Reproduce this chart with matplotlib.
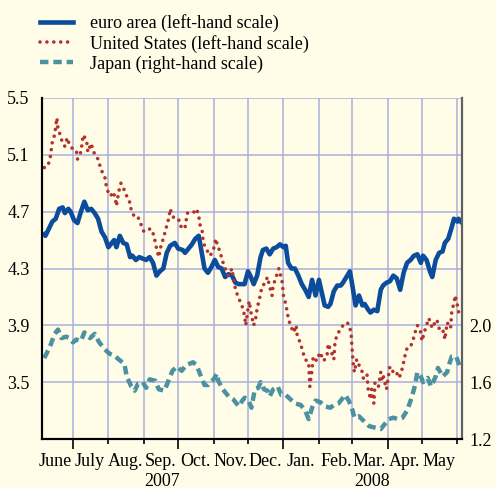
import numpy as np
import matplotlib
matplotlib.use("Agg")
import matplotlib.pyplot as plt
import matplotlib.dates as mdates

# days counted from 1 June 2007
euro_days = [5, 6, 12, 15, 18, 21, 23, 26, 28, 31, 34, 37, 40, 43, 46, 49, 52, 55, 58, 61,
             63, 66, 68, 71, 74, 77, 80, 82, 85, 88, 91, 94, 97, 100, 103, 106, 109, 112, 115, 119,
             122, 126, 128, 131, 134, 137, 140, 143, 145, 148, 151, 154, 157, 160, 163, 166, 169, 172, 175, 178,
             180, 183, 185, 188, 191, 194, 196, 199, 202, 205, 208, 211, 214, 216, 218, 221, 224, 227, 230, 233,
             236, 239, 242, 245, 248, 250, 253, 255, 258, 261, 264, 266, 269, 272, 274, 277, 280, 283, 285, 288,
             290, 293, 296, 299, 301, 304, 307, 310, 313, 316, 319, 322, 325, 328, 331, 334, 336, 339, 342, 344,
             347, 350, 353, 355, 358, 361, 363, 366, 367, 369]
euro = [4.54, 4.53, 4.63, 4.65, 4.72, 4.73, 4.69, 4.72, 4.70, 4.64, 4.62, 4.70, 4.77, 4.71, 4.72, 4.69, 4.65, 4.56, 4.52, 4.45,
        4.47, 4.50, 4.45, 4.53, 4.48, 4.47, 4.38, 4.39, 4.36, 4.38, 4.37, 4.36, 4.38, 4.34, 4.25, 4.28, 4.30, 4.41, 4.46, 4.48,
        4.44, 4.43, 4.41, 4.44, 4.47, 4.51, 4.53, 4.39, 4.30, 4.27, 4.31, 4.36, 4.31, 4.30, 4.24, 4.26, 4.25, 4.20, 4.19, 4.19,
        4.19, 4.28, 4.25, 4.19, 4.25, 4.38, 4.43, 4.44, 4.40, 4.44, 4.45, 4.47, 4.45, 4.46, 4.34, 4.30, 4.30, 4.25, 4.19, 4.15,
        4.10, 4.22, 4.11, 4.22, 4.11, 4.04, 4.03, 4.05, 4.14, 4.18, 4.18, 4.20, 4.24, 4.28, 4.19, 4.04, 4.11, 4.04, 4.05, 4.01,
        3.99, 4.01, 4.00, 4.15, 4.18, 4.20, 4.21, 4.25, 4.23, 4.15, 4.27, 4.34, 4.36, 4.39, 4.40, 4.34, 4.39, 4.36, 4.28, 4.24,
        4.36, 4.41, 4.42, 4.48, 4.51, 4.59, 4.65, 4.63, 4.65, 4.63]

us_days = [5, 8, 10, 11, 12, 14, 15, 16, 17, 19, 21, 23, 25, 27, 30, 33, 34, 37, 39, 42,
           43, 46, 48, 51, 53, 55, 58, 59, 61, 63, 65, 67, 68, 70, 72, 75, 77, 80, 81, 84,
           87, 90, 92, 94, 98, 101, 102, 104, 105, 107, 109, 112, 114, 115, 117, 120, 123, 125, 128, 130,
           135, 138, 140, 141, 143, 144, 147, 150, 153, 155, 156, 159, 160, 163, 166, 169, 171, 173, 176, 178,
           180, 181, 183, 184, 186, 188, 190, 191, 194, 195, 198, 200, 202, 204, 205, 208, 210, 213, 214, 216,
           218, 220, 223, 225, 226, 229, 231, 233, 236, 237, 239, 240, 243, 246, 249, 252, 253, 256, 258, 259,
           261, 264, 266, 269, 271, 273, 274, 275, 276, 278, 280, 283, 284, 287, 288, 290, 291, 293, 294, 297,
           299, 300, 301, 304, 306, 307, 310, 312, 315, 317, 319, 320, 322, 325, 327, 329, 331, 334, 335, 337,
           339, 341, 344, 345, 348, 350, 352, 354, 355, 357, 360, 361, 363, 364, 366, 368]
us = [5.01, 5.02, 5.07, 5.13, 5.19, 5.24, 5.30, 5.36, 5.28, 5.24, 5.18, 5.16, 5.22, 5.17, 5.14, 5.13, 5.07, 5.12, 5.24, 5.20,
      5.12, 5.18, 5.12, 5.09, 5.04, 4.99, 4.94, 4.89, 4.83, 4.81, 4.84, 4.80, 4.74, 4.84, 4.90, 4.85, 4.81, 4.76, 4.71, 4.66,
      4.66, 4.60, 4.56, 4.57, 4.58, 4.53, 4.48, 4.41, 4.38, 4.46, 4.51, 4.60, 4.66, 4.72, 4.67, 4.64, 4.64, 4.58, 4.59, 4.69,
      4.69, 4.72, 4.67, 4.61, 4.56, 4.48, 4.43, 4.39, 4.44, 4.51, 4.47, 4.41, 4.37, 4.30, 4.25, 4.30, 4.19, 4.13, 4.07, 4.03,
      3.97, 3.90, 4.01, 4.07, 3.97, 3.90, 3.96, 4.02, 4.12, 4.17, 4.20, 4.24, 4.17, 4.11, 4.18, 4.25, 4.30, 4.20, 4.11, 4.05,
      3.96, 3.90, 3.85, 3.90, 3.83, 3.77, 3.71, 3.66, 3.64, 3.47, 3.59, 3.68, 3.65, 3.71, 3.65, 3.68, 3.77, 3.71, 3.66, 3.78,
      3.84, 3.87, 3.90, 3.92, 3.91, 3.85, 3.73, 3.63, 3.57, 3.66, 3.62, 3.57, 3.52, 3.55, 3.45, 3.38, 3.45, 3.35, 3.50, 3.47,
      3.57, 3.52, 3.55, 3.45, 3.56, 3.61, 3.57, 3.58, 3.53, 3.57, 3.64, 3.68, 3.74, 3.75, 3.79, 3.85, 3.90, 3.85, 3.79, 3.85,
      3.90, 3.95, 3.88, 3.90, 3.94, 3.88, 3.85, 3.86, 3.80, 3.92, 3.88, 3.99, 4.06, 4.11, 4.04, 3.95]

japan_days = [5, 10, 14, 17, 20, 24, 27, 30, 33, 37, 40, 45, 49, 53, 58, 62, 66, 70, 75, 77,
              81, 84, 87, 91, 94, 97, 102, 105, 110, 113, 117, 121, 125, 129, 135, 138, 141, 145, 148, 153,
              156, 157, 161, 166, 170, 175, 178, 180, 183, 186, 189, 192, 194, 197, 200, 202, 205, 209, 212, 216,
              220, 224, 229, 233, 236, 239, 242, 246, 250, 255, 258, 262, 265, 268, 271, 274, 276, 280, 285, 289,
              294, 299, 302, 306, 310, 314, 318, 322, 326, 329, 331, 334, 336, 340, 343, 347, 349, 353, 357, 359,
              361, 365, 368]
japan = [1.77, 1.85, 1.94, 1.97, 1.91, 1.92, 1.91, 1.88, 1.90, 1.89, 1.95, 1.91, 1.94, 1.88, 1.83, 1.80, 1.79, 1.76, 1.73, 1.64,
         1.57, 1.54, 1.59, 1.60, 1.56, 1.62, 1.61, 1.55, 1.54, 1.60, 1.68, 1.71, 1.68, 1.72, 1.74, 1.72, 1.66, 1.58, 1.58, 1.62,
         1.66, 1.61, 1.55, 1.50, 1.48, 1.43, 1.47, 1.49, 1.48, 1.42, 1.55, 1.56, 1.60, 1.55, 1.54, 1.50, 1.55, 1.57, 1.51, 1.51,
         1.48, 1.45, 1.44, 1.40, 1.34, 1.42, 1.47, 1.46, 1.43, 1.42, 1.44, 1.45, 1.48, 1.51, 1.47, 1.41, 1.35, 1.36, 1.32, 1.29,
         1.28, 1.27, 1.30, 1.34, 1.35, 1.34, 1.35, 1.40, 1.49, 1.58, 1.67, 1.64, 1.60, 1.63, 1.57, 1.64, 1.70, 1.64, 1.67, 1.73,
         1.78, 1.78, 1.71]

month_labels = ["June", "July", "Aug.", "Sep.", "Oct.", "Nov.", "Dec.",
                "Jan.", "Feb.", "Mar.", "Apr.", "May"]
left_ticks = [3.5, 3.9, 4.3, 4.7, 5.1, 5.5]
right_ticks = [1.2, 1.6, 2.0]

base = np.datetime64("2007-06-01")
def to_dates(days):
    return base + np.array(days).astype("timedelta64[D]")

bg = "#fffde8"
blue = "#0b4c9c"
red = "#b3322e"
teal = "#4b91a1"
gridc = "#a9b0de"

plt.rcParams["font.family"] = ["Liberation Serif", "DejaVu Serif"]

fig = plt.figure(figsize=(4.96, 4.88), dpi=100, facecolor=bg)
ax = fig.add_axes([42/496, 1-439/488, 420/496, 341/488])
ax.set_facecolor(bg)

l1, = ax.plot(to_dates(euro_days), euro, color=blue, lw=3.3, solid_joinstyle="round", label="euro area (left-hand scale)")
l2, = ax.plot(to_dates(us_days), us, color=red, lw=2.6, linestyle=(0, (0.01, 1.9)),
              dash_capstyle="round", label="United States (left-hand scale)")

ax2 = ax.twinx()
l3, = ax2.plot(to_dates(japan_days), japan, color=teal, lw=3.2, linestyle=(0, (1.9, 1.1)),
               label="Japan (right-hand scale)")

ax.set_xlim(base + np.timedelta64(3, "D"), base + np.timedelta64(370, "D"))
ax.set_ylim(3.1, 5.5)
ax2.set_ylim(1.2, 3.6)

ax.set_yticks(left_ticks)
ax.set_yticklabels([f"{v:.1f}" for v in left_ticks])
ax2.set_yticks(right_ticks)
ax2.set_yticklabels([f"{v:.1f}" for v in right_ticks])
ax.tick_params(axis="y", length=0, pad=9, labelsize=13)
ax2.tick_params(axis="y", length=0, pad=5, labelsize=13)

ax.xaxis.set_major_locator(mdates.MonthLocator(bymonth=[1, 4, 7, 10]))
ax.xaxis.set_minor_locator(mdates.MonthLocator(bymonth=[2, 3, 5, 6, 8, 9, 11, 12]))
ax.xaxis.set_major_formatter(plt.NullFormatter())
ax.tick_params(axis="x", which="major", length=7, width=1.2, direction="out")
ax.tick_params(axis="x", which="minor", length=3.5, width=1.2, direction="out")

ax.grid(True, which="both", axis="x", color=gridc, lw=1.1)
ax.grid(True, which="major", axis="y", color=gridc, lw=1.1)
ax.set_axisbelow(True)

for a in (ax, ax2):
    a.spines["top"].set_visible(False)
    a.spines["left"].set_linewidth(1.5)
    a.spines["bottom"].set_linewidth(1.5)
ax2.spines["right"].set_color("#606060")
ax2.spines["right"].set_linewidth(1.6)
ax.spines["right"].set_visible(False)

trans = ax.get_xaxis_transform()
for i, name in enumerate(month_labels):
    y, m = (2007, 6 + i) if 6 + i <= 12 else (2008, i - 6)
    mid = np.datetime64(f"{y}-{m:02d}-16")
    ax.text(mid, -23/341, name, transform=trans, ha="center", va="center", fontsize=13)
ax.text(np.datetime64("2007-09-17"), -42/341, "2007", transform=trans, ha="center", va="center", fontsize=13)
ax.text(np.datetime64("2008-03-18"), -42/341, "2008", transform=trans, ha="center", va="center", fontsize=13)

fig.legend(handles=[l1, l2, l3], loc="upper left", bbox_to_anchor=(40/496, 1-14/488),
           frameon=False, fontsize=13, handlelength=1.85, handletextpad=0.9,
           labelspacing=0.15, borderpad=0, borderaxespad=0)

fig.savefig("out.png", dpi=100, facecolor=bg)
